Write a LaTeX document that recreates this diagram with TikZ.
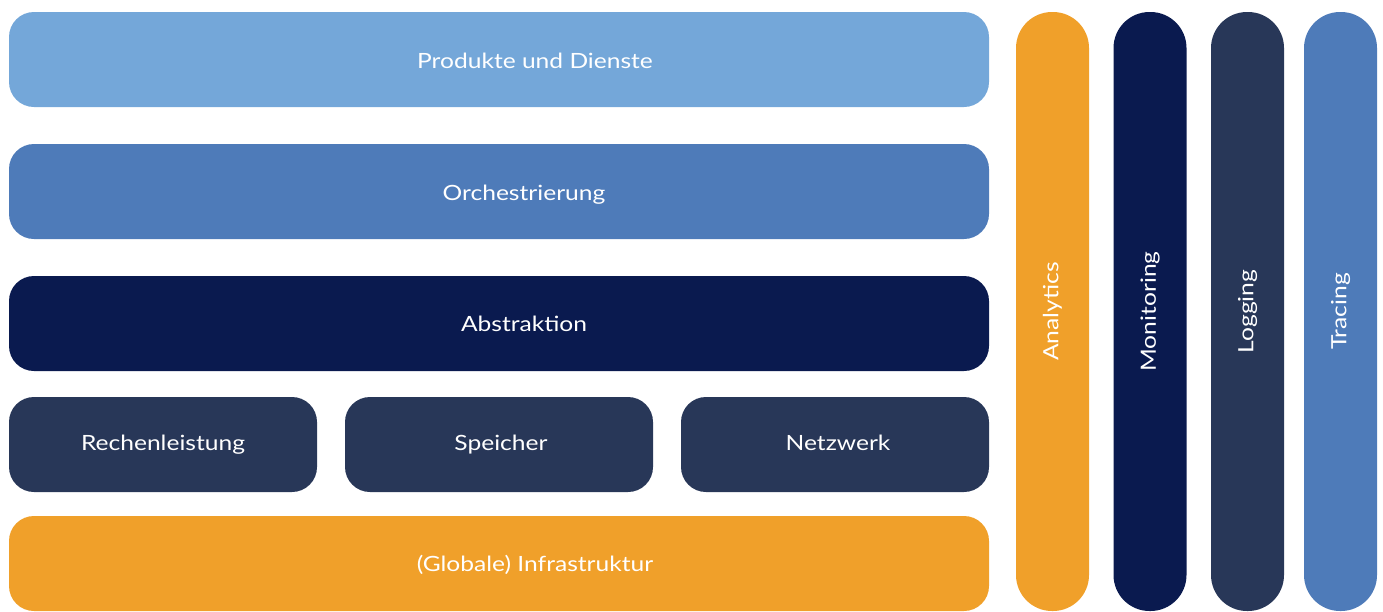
\documentclass[tikz,border=0pt]{standalone}
\usepackage{fontspec}
\setmainfont[FakeStretch=1.17]{Lato}
\usetikzlibrary{positioning}

\definecolor{lightblue}{HTML}{74A7D9}
\definecolor{midblue}{HTML}{4E7BB9}
\definecolor{navy}{HTML}{0A1A4F}
\definecolor{slate}{HTML}{283758}
\definecolor{amber}{HTML}{F0A02A}

\tikzstyle{layer} = [rectangle, rounded corners=25pt, minimum width=980pt, minimum height=95pt, inner sep=0pt, text=white, font=\fontsize{21}{25}\selectfont]
\tikzstyle{part} = [layer, minimum width=308pt]
\tikzstyle{pillar} = [rectangle, rounded corners=36pt, minimum width=599pt, minimum height=73pt, inner sep=0pt, text=white, rotate=90, font=\fontsize{21}{25}\selectfont]
\tikzset{caption/.style n args={3}{label={[text=white, font=\fontsize{21}{25}\selectfont, xshift=#1, yshift=#2]center:#3}}}

\begin{document}
\begin{tikzpicture}[x=1pt, y=-1pt]
\useasboundingbox (0,0) rectangle (1383,611);
%\draw[step=50, very thin,black!20] (0,0) grid (1383,611);
\node[layer, fill=lightblue, caption={36pt}{-1.5pt}{Produkte und Dienste}] (prod) at (499,59.5) {};
\node[layer, fill=midblue, caption={25pt}{-3pt}{Orchestrierung}] (orch) at (499,191.5) {};
\node[layer, fill=navy, caption={25pt}{0pt}{Abstraktion}] (abst) at (499,323.5) {};
\node[part, fill=slate, caption={0pt}{0pt}{Rechenleistung}] (comp) at (163,444.5) {};
\node[part, fill=slate, caption={2pt}{0pt}{Speicher}] (stor) at (499,444.5) {};
\node[part, fill=slate, caption={3pt}{2pt}{Netzwerk}] (net) at (835,444.5) {};
\node[layer, fill=amber, caption={36pt}{-1.5pt}{(Globale) Infrastruktur}] (infra) at (499,563.5) {};
% side pillars
\node[pillar, fill=amber] (ana) at (1052.5,311.5) {Analytics};
\node[pillar, fill=navy] (mon) at (1150,311.5) {Monitoring};
\node[pillar, fill=slate] (log) at (1247.5,311.5) {Logging};
\node[pillar, fill=midblue] (trace) at (1340.5,311.5) {Tracing};
\end{tikzpicture}
\end{document}
